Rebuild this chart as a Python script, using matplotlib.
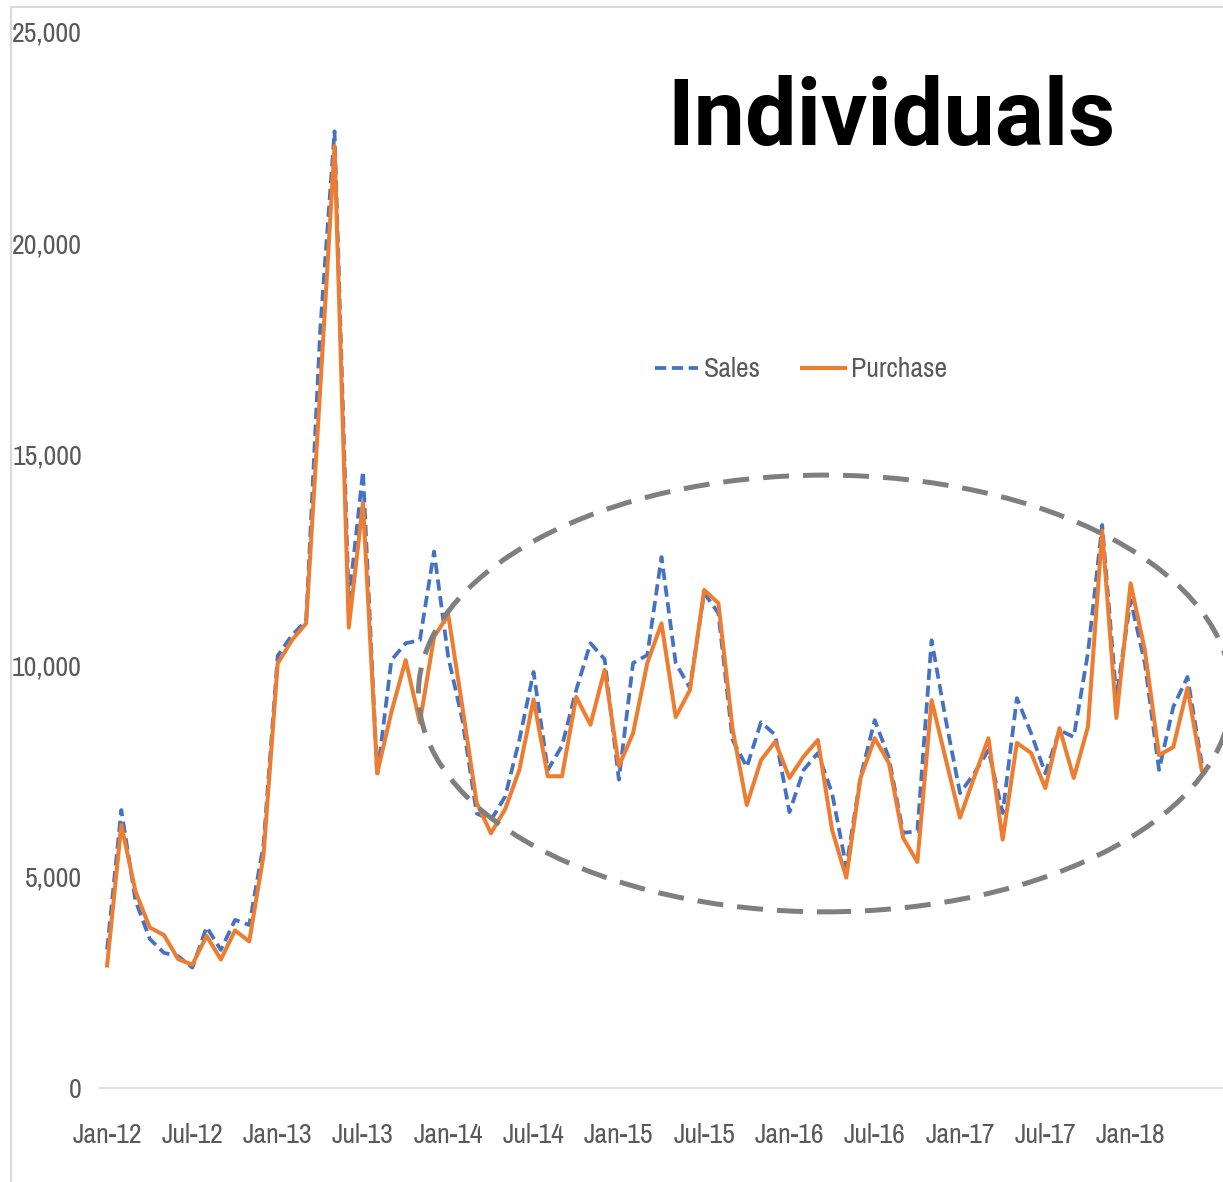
import numpy as np
import matplotlib
matplotlib.use('Agg')
import matplotlib.pyplot as plt
from matplotlib import font_manager as fm
from matplotlib.patches import Ellipse
from matplotlib.lines import Line2D

# monthly values, Jan-12 .. Jun-18
sales = [3280, 6580, 4430, 3530, 3200, 3120, 2850, 3810, 3270, 3980, 3860, 5750,
         10230, 10720, 11050, 18000, 22650, 11500, 14600, 7380, 10130, 10530, 10600, 12700,
         10200, 8700, 6500, 6340, 6900, 8240, 9850, 7530, 8100, 9420, 10530, 10150,
         7300, 10060, 10250, 12570, 10060, 9470, 11720, 11240, 8240, 7600, 8660, 8360,
         6530, 7530, 7930, 6980, 5230, 7360, 8710, 7810, 6040, 6080, 10600, 8710,
         6980, 7450, 8000, 6510, 9230, 8400, 7450, 8470, 8310, 10300, 13330, 9260,
         11550, 10060, 7530, 9020, 9730, 7690]
purchase = [2900, 6230, 4650, 3800, 3620, 3050, 2920, 3600, 3040, 3730, 3470, 5500,
            10050, 10600, 11000, 16600, 22300, 10900, 13850, 7450, 8900, 10130, 8650, 10680,
            11200, 9000, 6750, 6030, 6600, 7530, 9200, 7380, 7380, 9260, 8600, 9900,
            7620, 8400, 10060, 11000, 8780, 9420, 11790, 11480, 8500, 6700, 7760, 8200,
            7340, 7850, 8240, 6110, 4980, 7340, 8280, 7690, 5920, 5350, 9180, 7780,
            6400, 7360, 8280, 5880, 8170, 7930, 7100, 8520, 7340, 8550, 13200, 8760,
            11950, 10370, 7880, 8070, 9470, 7530]
tick_labels = ['Jan-12', 'Jul-12', 'Jan-13', 'Jul-13', 'Jan-14', 'Jul-14', 'Jan-15',
               'Jul-15', 'Jan-16', 'Jul-16', 'Jan-17', 'Jul-17', 'Jan-18']
y_ticks = [0, 5000, 10000, 15000, 20000, 25000]

# narrow font for axis text if there is one, otherwise condensed DejaVu
names = {f.name for f in fm.fontManager.ttflist}
if 'Archivo Narrow' in names:
    plt.rcParams['font.family'] = ['Archivo Narrow', 'DejaVu Sans']
    fs = 20
else:
    plt.rcParams['font.family'] = ['DejaVu Sans']
    plt.rcParams['font.stretch'] = 'condensed'
    fs = 15
grey_txt = '#595959'

fig = plt.figure(figsize=(12.23, 11.82), dpi=100)
ax = fig.add_axes([100 / 1223, 94 / 1182, 1123 / 1223, 1056 / 1182])

x = np.arange(len(sales))
ax.plot(x, sales, color='#4472C4', lw=2.7, linestyle=(0, (3, 1.5)), label='Sales', zorder=3)
ax.plot(x, purchase, color='#ED7D31', lw=2.9, label='Purchase', zorder=4)

ax.set_xlim(-0.5, 78.5)
ax.set_ylim(0, 25000)
ax.set_xticks(np.arange(0, 6 * len(tick_labels), 6))
ax.set_xticklabels(tick_labels)
ax.set_yticks(y_ticks)
ax.set_yticklabels([f'{v:,}' for v in y_ticks])
ax.tick_params(axis='both', length=0, labelsize=fs, labelcolor=grey_txt)
ax.tick_params(axis='y', pad=13)
ax.tick_params(axis='x', pad=25)

for s in ['top', 'right', 'left']:
    ax.spines[s].set_visible(False)
ax.spines['bottom'].set_color('#d9d9d9')
ax.spines['bottom'].set_linewidth(1.2)

# dashed ellipse highlighting the post-2014 range
ell = Ellipse((50.5, 9340), width=57.2, height=10340, fill=False,
              edgecolor='#7f7f7f', lw=3.6, linestyle=(0, (5.2, 2.8)),
              zorder=5, clip_on=False)
ax.add_patch(ell)

leg = ax.legend(loc='center', bbox_to_anchor=(0.655, 0.687), bbox_transform=fig.transFigure,
                ncol=2, frameon=False, fontsize=fs, handlelength=1.55,
                handletextpad=0.2, columnspacing=1.5)
for t in leg.get_texts():
    t.set_color(grey_txt)

fig.text(891 / 1223, 1 - 120 / 1182, 'Individuals', family='Roboto', fontweight='bold',
         fontstretch='normal', fontsize=66, ha='center', va='center', color='black')

# chart area border (left and top edges)
fig.add_artist(Line2D([11 / 1223, 11 / 1223, 1.0], [0, 1 - 7 / 1182, 1 - 7 / 1182],
                      color='#d9d9d9', lw=1.5, transform=fig.transFigure))

fig.savefig('out.png', dpi=100)
